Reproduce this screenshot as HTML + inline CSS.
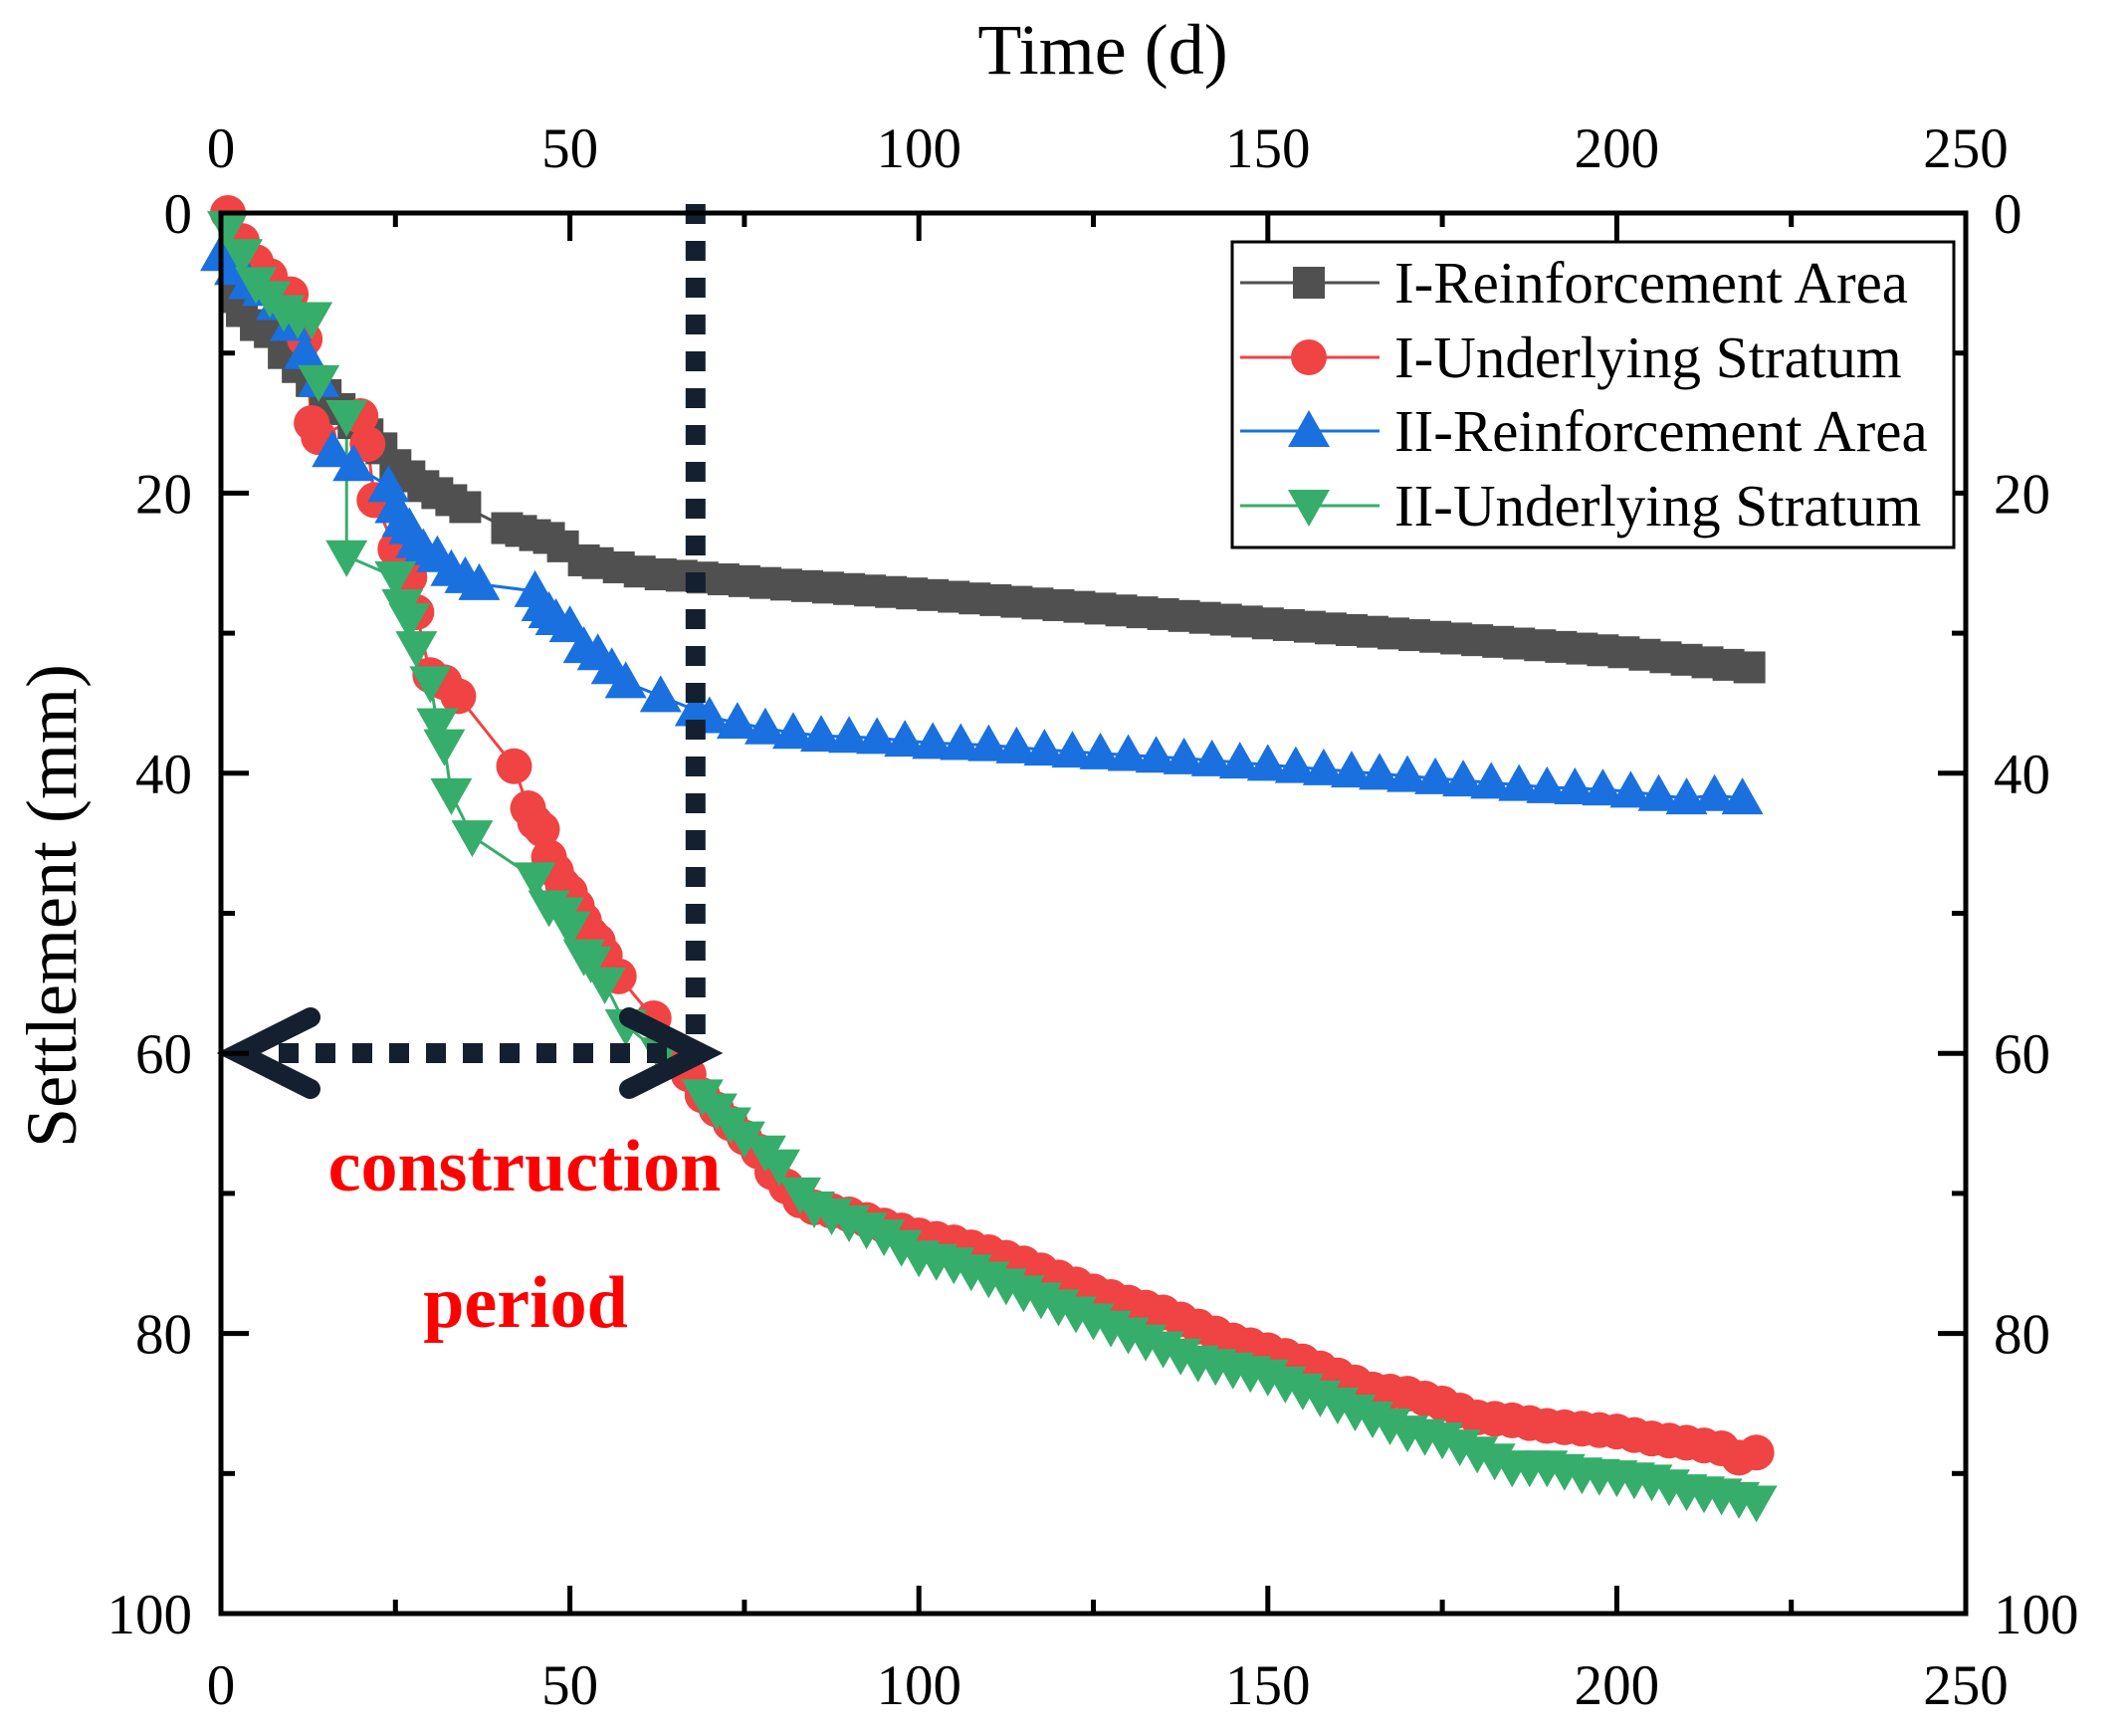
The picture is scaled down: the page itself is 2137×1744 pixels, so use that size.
<!DOCTYPE html>
<html><head><meta charset="utf-8"><style>
html,body{margin:0;padding:0;background:#fff;}
svg{display:block;}
text{font-family:"Liberation Serif",serif;fill:#000;}
</style></head><body>
<svg id="s" width="2137" height="1744" xmlns="http://www.w3.org/2000/svg">
<rect width="2137" height="1744" fill="#fff"/>
<g id="plot"></g>
<g id="axes"></g>
</svg>
<script>
const X0=222,X1=1975,Y0=214,Y1=1621;
const sx=d=>X0+(X1-X0)*d/250, sy=v=>Y0+(Y1-Y0)*v/100;
const NS="http://www.w3.org/2000/svg";
function el(p,t,a,txt){const e=document.createElementNS(NS,t);for(const k in a)e.setAttribute(k,a[k]);if(txt!==undefined)e.textContent=txt;p.appendChild(e);return e;}
const plot=document.getElementById('plot'),axes=document.getElementById('axes');
function interp(pts,d){for(let i=0;i<pts.length-1;i++){if(d>=pts[i][0]&&d<=pts[i+1][0]){const t=(d-pts[i][0])/(pts[i+1][0]-pts[i][0]||1);return pts[i][1]+t*(pts[i+1][1]-pts[i][1]);}}return pts[pts.length-1][1];}
function build(early,late,step,start,end){const pts=early.slice();const lt=[[start,interp(late,start)]];for(let d=start;d<=end+0.01;d+=step)pts.push([d,interp(late,d)]);return pts;}
const C={g:'#505050',r:'#f04343',b:'#1a70de',gr:'#37ad6b'};
// gray
const grayE=[[2,6],[3,7],[5,8],[7,8.5],[9,10],[11,11],[13,12],[15,13],[17,14],[19,15],[21,15.8],[23,16.8],[25,18],[27,18.8],[29,19.5],[31,20],[33,20.5],[35,21],[41,22.5],[43,22.7],[45,23],[47,23.2],[49,23.8],[52,24.8],[54,25],[57,25.3],[60,25.6],[63,25.8]];
const grayL=[[66,25.9],[80,26.5],[100,27.2],[125,28.2],[150,29.3],[175,30.3],[200,31.3],[220,32.5]];
const gray=build(grayE,grayL,3,66,219);
// red
const red=[[1,0],[3,2],[5,3.5],[7,4.5],[10,5.8],[12,9],[13,15],[14,16],[20,14.5],[21,16.5],[22,20.5],[25,24],[27,26],[28,28.5],[30,33],[32,33.5],[34,34.5],[42,39.5],[44,42.5],[45,43.5],[46,44],[47,46],[48,47],[49,48],[50,48.5],[51,49.5],[52,50.5],[53,51.5],[54,52],[55,53],[57,54.5],[62,57.5],[65,60],[67,61.5],[69,63],[71,64],[73,65],[75,66],[77,67],[79,68.5],[81,69.5],[83,70.5],[85,71]];
const redL=[[85,71],[90,71.5],[95,72.3],[100,73],[105,73.5],[110,74.2],[115,75],[120,76],[125,77],[130,77.8],[135,78.5],[140,79.5],[145,80.5],[150,81.2],[155,82],[160,83],[165,84],[170,84.3],[175,85],[180,86],[185,86.2],[190,86.6],[195,86.8],[200,87],[205,87.5],[210,87.8],[215,88.2],[218,89],[220,88.5]];
const redP=build(red,redL,2.5,87.5,220);
// blue
const blueE=[[0,3],[2,4],[4,5],[6,5.5],[8,6.5],[10,8],[12,10],[14,12],[16,17],[19,18],[24,19.5],[25,21],[26,22],[27,22.5],[28,23.5],[29,24],[31,24.5],[33,25.5],[35,26],[37,26.5],[45,27],[46,28],[47,28.5],[48,29],[50,29.5],[52,31],[54,31.5],[56,32.5],[58,33.5],[63,34.5],[68,35.5]];
const blueL=[[68,35.5],[70,36],[75,36.5],[80,37],[85,37.3],[90,37.4],[95,37.5],[100,37.8],[110,38],[120,38.4],[130,38.7],[140,39],[150,39.4],[160,39.8],[170,40.2],[180,40.6],[190,41],[200,41.2],[210,41.8],[215,41.5],[220,42]];
const blue=build(blueE,blueL,4,70,220);
// green
const grE=[[1,1],[3,3],[5,5],[7,6],[9,7],[11,7.5],[13,7.5],[14,12],[18,14.5],[18,24.5],[25,26],[26,28],[27,29],[28,31],[30,33.5],[31,36.5],[32,38],[33,41.5],[36,44.5],[45,47.5],[47,49.5],[49,50],[50,51],[52,53],[53,53.5],[55,55],[58,58],[63,60],[69,63],[71,64],[73,65],[75,66],[78,67],[80,68],[83,70],[85,71]];
const grL=[[85,71],[90,72],[95,73],[100,74.5],[105,75],[110,76],[115,77],[120,78],[125,79],[130,80],[135,81],[140,82],[145,82.5],[150,83],[155,84],[160,85],[165,86],[170,87],[175,87.5],[180,88.5],[185,89.5],[190,89.5],[195,90],[200,90.2],[205,90.5],[210,91.2],[215,91.5],[220,92]];
const green=build(grE,grL,2.5,87.5,220);

function line(pts,c){el(plot,'polyline',{points:pts.map(p=>sx(p[0])+','+sy(p[1])).join(' '),fill:'none',stroke:c,'stroke-width':3});}
function sq(x,y,c){el(plot,'rect',{x:x-16,y:y-16,width:32,height:32,fill:c});}
function ci(x,y,c){el(plot,'circle',{cx:x,cy:y,r:18,fill:c});}
function tu(x,y,c){el(plot,'polygon',{points:`${x},${y-21} ${x+21},${y+16} ${x-21},${y+16}`,fill:c});}
function td(x,y,c){el(plot,'polygon',{points:`${x},${y+21} ${x+21},${y-16} ${x-21},${y-16}`,fill:c});}
const series=[[gray,C.g,sq],[redP,C.r,ci],[blue,C.b,tu],[green,C.gr,td]];
series.forEach(([p,c])=>line(p,c));
series.forEach(([p,c,m])=>p.forEach(q=>m(sx(q[0]),sy(q[1]),c)));

// dotted lines and arrows
const dk='#14202f';
el(axes,'line',{x1:sx(68),y1:205,x2:sx(68),y2:1058,stroke:dk,'stroke-width':20,'stroke-dasharray':'20 17'});
el(axes,'line',{x1:280,y1:1058,x2:690,y2:1058,stroke:dk,'stroke-width':20,'stroke-dasharray':'20 17'});
el(axes,'polyline',{points:'312,1022 240,1058 312,1094',fill:'none',stroke:dk,'stroke-width':20,'stroke-linecap':'round','stroke-linejoin':'miter'});
el(axes,'polyline',{points:'632,1022 704,1058 632,1094',fill:'none',stroke:dk,'stroke-width':20,'stroke-linecap':'round','stroke-linejoin':'miter'});
el(axes,'text',{x:527,y:1196,'text-anchor':'middle','font-size':74,'font-weight':'bold',style:'fill:#ff0000'},'construction');
el(axes,'text',{x:528,y:1333,'text-anchor':'middle','font-size':74,'font-weight':'bold',style:'fill:#ff0000'},'period');

// frame
el(axes,'rect',{x:X0,y:Y0,width:X1-X0,height:Y1-Y0,fill:'none',stroke:'#000','stroke-width':5});
for(let d=0;d<=250;d+=25){const x=sx(d),L=d%50===0?28:14;
 el(axes,'line',{x1:x,y1:Y1,x2:x,y2:Y1-L,stroke:'#000','stroke-width':5});
 el(axes,'line',{x1:x,y1:Y0,x2:x,y2:Y0+L,stroke:'#000','stroke-width':5});
 if(d%50===0){el(axes,'text',{x:x,y:1712,'text-anchor':'middle','font-size':57},String(d));
  el(axes,'text',{x:x,y:168,'text-anchor':'middle','font-size':57},String(d));}}
for(let v=0;v<=100;v+=10){const y=sy(v),L=v%20===0?28:14;
 el(axes,'line',{x1:X0,y1:y,x2:X0+L,y2:y,stroke:'#000','stroke-width':5});
 el(axes,'line',{x1:X1,y1:y,x2:X1-L,y2:y,stroke:'#000','stroke-width':5});
 if(v%20===0){el(axes,'text',{x:193,y:y+20,'text-anchor':'end','font-size':57},String(v));
  el(axes,'text',{x:2003,y:y+20,'text-anchor':'start','font-size':57},String(v));}}
el(axes,'text',{x:1108,y:74,'text-anchor':'middle','font-size':72},'Time (d)');
el(axes,'text',{x:0,y:0,'text-anchor':'middle','font-size':72,transform:'translate(76,910) rotate(-90)'},'Settlement (mm)');

// legend
el(axes,'rect',{x:1238,y:243,width:725,height:307,fill:'#fff',stroke:'#000','stroke-width':3});
const names=['I-Reinforcement Area','I-Underlying Stratum','II-Reinforcement Area','II-Underlying Stratum'];
const ys=[284,359,433,508];
series.forEach(([p,c,m],i)=>{const y=ys[i];
 el(axes,'line',{x1:1246,y1:y,x2:1386,y2:y,stroke:c,'stroke-width':3});
 const g=plot; const tmp=plot; 
 // draw marker into axes group
 const save=plot; 
 if(i===0)el(axes,'rect',{x:1299,y:y-16,width:32,height:32,fill:c});
 if(i===1)el(axes,'circle',{cx:1315,cy:y,r:18,fill:c});
 if(i===2)el(axes,'polygon',{points:`1315,${y-21} 1336,${y+16} 1294,${y+16}`,fill:c});
 if(i===3)el(axes,'polygon',{points:`1315,${y+21} 1336,${y-16} 1294,${y-16}`,fill:c});
 el(axes,'text',{x:1401,y:y+20,'font-size':59},names[i]);});
</script>
</body></html>
